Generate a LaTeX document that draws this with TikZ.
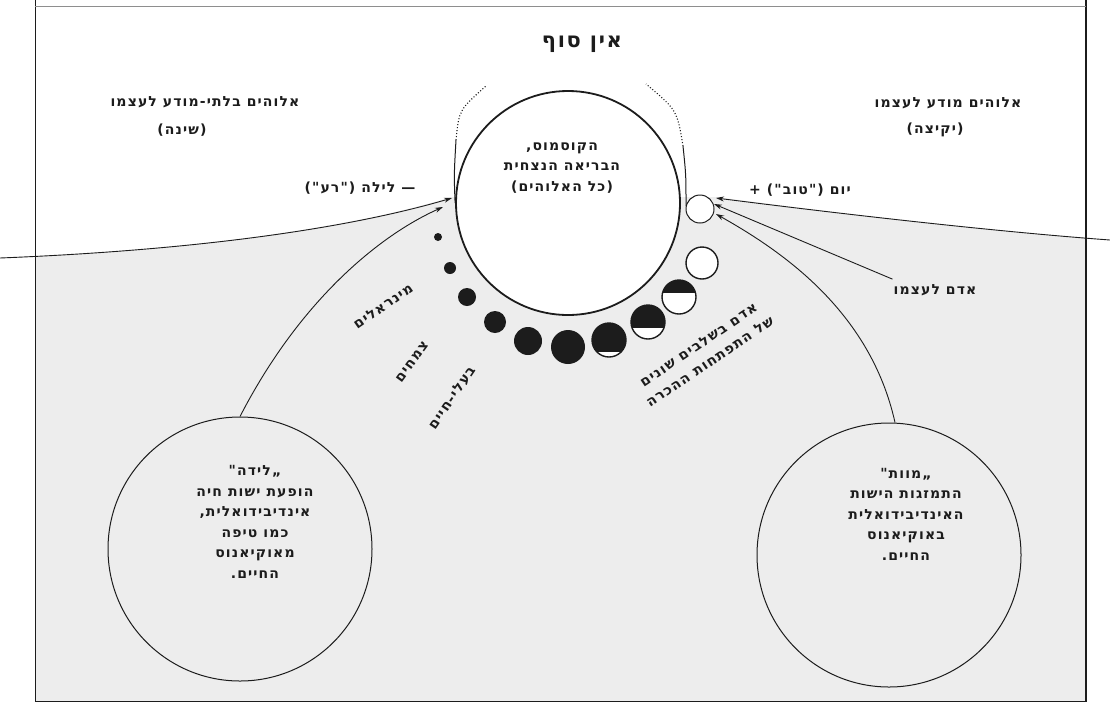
\documentclass[tikz,border=0pt]{standalone}
\usepackage{fontspec}
\usetikzlibrary{arrows.meta}
\newfontfamily\hebfont[Script=Hebrew,LetterSpace=8]{DejaVu Sans Bold}
\TeXXeTstate=1
\definecolor{Ink}{HTML}{1C1C1C}
\definecolor{Paper}{HTML}{EDEDED}
\newcommand{\heb}[1]{\beginR #1\endR}
\tikzset{
 hand/.style={font=\hebfont\fontsize{14}{20.5}\selectfont, text=Ink, align=center, inner sep=1pt},
 bighand/.style={hand, font=\hebfont\fontsize{21}{24}\selectfont},
 ring/.style={circle, draw=Ink, line width=1pt, inner sep=0pt},
 dot/.style={circle, fill=Ink, inner sep=0pt},
 phase/.style={ring, fill=white, line width=1.4pt, minimum size=34pt,
  path picture={\fill[Ink] (path picture bounding box.north west) rectangle ([yshift=-#1pt]path picture bounding box.east);}},
 pointer/.style={-{Stealth[length=8pt,width=5pt]}, draw=Ink, line width=0.9pt},
 wire/.style={draw=Ink, line width=1pt}
}
\begin{document}
\begin{tikzpicture}[x=1pt,y=-1pt]
\useasboundingbox (0,0) rectangle (1110,713);
\fill[white] (0,0) rectangle (1110,713);
\begin{scope}
\clip (35,6) rectangle (1086,701);
\fill[Paper] (0,258) .. controls (200,250) and (350,228) .. (452,197) -- (716,197)
 .. controls (850,215) and (1000,232) .. (1110,240) -- (1110,713) -- (0,713) -- cycle;
\end{scope}
\draw[Ink, line width=0.9pt] (35,0) -- (35,701) -- (1086,701);
\draw[Ink, line width=2.4pt] (1086,0) -- (1086,702);
\draw[Ink!50, line width=0.5pt] (35,6) -- (1086,6);

\node[ring, minimum size=264pt] (birth) at (240,549) {};
\node[ring, minimum size=264pt] (death) at (889,555) {};
\node[ring, line width=1.8pt, minimum size=224pt, fill=white] (cosmos) at (568,203) {};
\node[ring, fill=white, minimum size=28pt] (adam) at (700,209) {};

\coordinate (lefttop) at (486,86);
\coordinate (leftmid) at (456,140);
\coordinate (righttop) at (646,84);
\coordinate (rightmid) at (683,146);
\draw[wire] (cosmos.west) .. controls (454,175) .. (leftmid);
\draw[wire, dotted, line width=1.1pt] (leftmid) .. controls (459,110) .. (lefttop);
\draw[wire] (686,206) .. controls (686,175) .. (rightmid);
\draw[wire, dotted, line width=1.1pt] (rightmid) .. controls (677,110) .. (righttop);

\node[dot, minimum size=8pt] (m1) at (438,237) {};
\node[dot, minimum size=12pt] (m2) at (450,268) {};
\node[dot, minimum size=18pt] (m3) at (467,297) {};
\node[dot, minimum size=22pt] (m4) at (495,322) {};
\node[dot, minimum size=28pt] (m5) at (528,341) {};
\node[dot, minimum size=34pt] (m6) at (568,347) {};
\node[phase=12] (p1) at (609,340) {};
\node[phase=6] (p2) at (648,322) {};
\node[phase=-4] (p3) at (679,297) {};
\node[ring, fill=white, line width=1.4pt, minimum size=32pt] (p4) at (702,263) {};

\coordinate (westend) at (0,258);
\coordinate (eastend) at (1110,240);
\coordinate (nightin) at (452,198);
\coordinate (birthin) at (443,207);
\coordinate (dayin) at (716,198);
\coordinate (adamin) at (714,204);
\coordinate (deathin) at (716,214);
\draw[pointer] (westend) .. controls (200,250) and (350,228) .. (nightin);
\draw[pointer] (birth.north) .. controls (300,300) and (380,235) .. (birthin);
\draw[pointer] (eastend) .. controls (1000,232) and (850,215) .. (dayin);
\draw[pointer] ([xshift=6pt]death.north) .. controls (870,310) and (780,250) .. (deathin);

\node[bighand] (einsof) at (582,44) {\heb{אין סוף}};
\node[hand] (godA) at (205,102) {\heb{אלוהים בלתי-מודע לעצמו}};
\node[hand] (sleepA) at (182,130) {\heb{(שינה)}};
\node[hand] (godB) at (948,103) {\heb{אלוהים מודע לעצמו}};
\node[hand] (wakeB) at (935,130) {\heb{(יקיצה)}};
\node[hand] (night) at (360,188) {\heb{— לילה ("רע")}};
\node[hand] (day) at (800,190) {\heb{יום ("טוב") +}};
\node[hand] (adamlbl) at (935,290) {\heb{אדם לעצמו}};
\draw[pointer] ([yshift=4pt]adamlbl.north west) -- (adamin);
\node[hand] (cosmostext) at (562,168) {\heb{הקוסמוס,}\\\heb{הבריאה הנצחית}\\\heb{(כל האלוהים)}};
\node[hand, rotate=35] (minerals) at (383,306) {\heb{מינראלים}};
\node[hand, rotate=54] (plants) at (412,362) {\heb{צמחים}};
\node[hand, rotate=56] (animals) at (452,398) {\heb{בעלי-חיים}};
\node[hand, rotate=34] (stages) at (704,353) {\heb{אדם בשלבים שונים}\\\heb{של התפתחות ההכרה}};
\node[hand] (birthtext) at (255,522) {\heb{„לידה"}\\\heb{הופעת ישות חיה}\\\heb{אינדיבידואלית,}\\\heb{כמו טיפה}\\\heb{מאוקיאנוס}\\\heb{החיים.}};
\node[hand] (deathtext) at (906,514) {\heb{„מוות"}\\\heb{התמזגות הישות}\\\heb{האינדיבידואלית}\\\heb{באוקיאנוס}\\\heb{החיים.}};
\end{tikzpicture}
\end{document}
